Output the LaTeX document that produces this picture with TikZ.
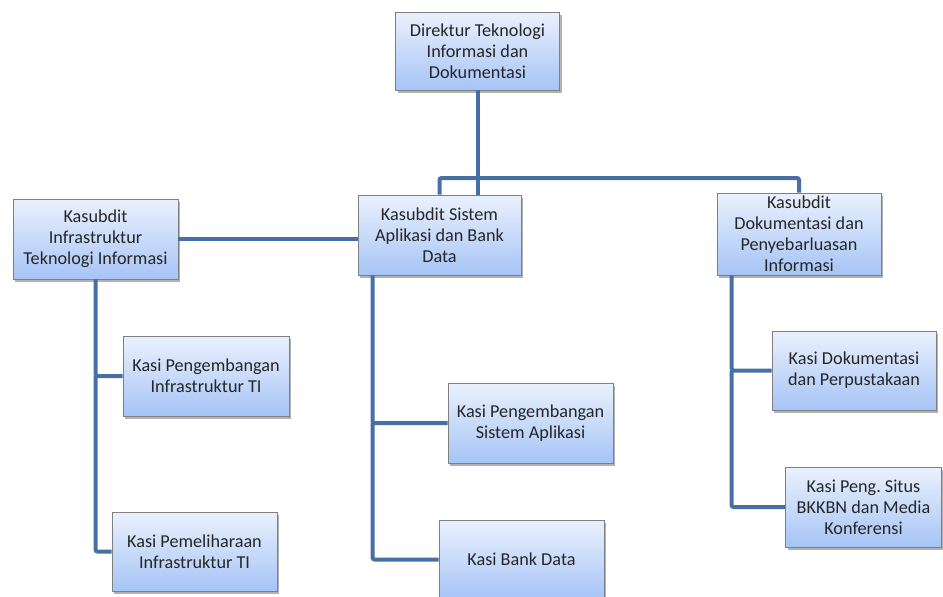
\documentclass[tikz,border=0pt]{standalone}
\usepackage{fontspec}
\setmainfont{Carlito}
\usepackage{tikz}
\usetikzlibrary{shadows}

\definecolor{linkblue}{RGB}{70,112,164}
\definecolor{boxtop}{RGB}{234,241,253}
\definecolor{boxbot}{RGB}{166,196,246}
\definecolor{boxline}{RGB}{128,128,128}

\begin{document}
\begin{tikzpicture}[x=1pt,y=-1pt,
  unit/.style={draw=boxline,line width=0.8pt,top color=boxtop,bottom color=boxbot,
    minimum width=164pt,minimum height=80pt,inner sep=2pt,align=center,
    font=\fontsize{18.2}{21}\selectfont,text=black!85,
    drop shadow={shadow xshift=2pt,shadow yshift=-2.5pt,opacity=0.3,fill=black}},
  link/.style={draw=linkblue,line width=4pt,rounded corners=2pt}]
\useasboundingbox (0,0) rectangle (943,597);
% Direktur
\node[unit,minimum height=78pt] (dir) at (477.5,51) {Direktur Teknologi\\Informasi dan\\Dokumentasi};
% Kasubdit
\node[unit,minimum width=165pt] (infra) at (95.5,239) {Kasubdit\\Infrastruktur\\Teknologi Informasi};
\node[unit,minimum width=163pt] (sistem) at (439.5,235) {Kasubdit Sistem\\Aplikasi dan Bank\\Data};
\node[unit,minimum height=82pt] (dokum) at (799,234) {Kasubdit\\Dokumentasi dan\\Penyebarluasan\\Informasi};
% Kasi
\node[unit,minimum width=166pt] (kpinfra) at (206,376) {Kasi Pengembangan\\Infrastruktur TI};
\node[unit,minimum width=165pt,minimum height=79pt] (kminfra) at (194.5,551.5) {Kasi Pemeliharaan\\Infrastruktur TI};
\node[unit,minimum width=165pt] (kpsistem) at (530.5,423) {Kasi Pengembangan\\Sistem Aplikasi};
\node[unit,minimum width=165pt,minimum height=79pt] (kbank) at (521.5,559.5) {Kasi Bank Data};
\node[unit,minimum height=79pt] (kdok) at (854,370.5) {Kasi Dokumentasi\\dan Perpustakaan};
\node[unit,minimum width=156pt] (ksitus) at (863.5,507) {Kasi Peng.\ Situs\\BKKBN dan Media\\Konferensi};
\coordinate (bar) at (0,178);
\coordinate (msys) at ([xshift=15pt]sistem.south west);
\coordinate (mdok) at ([xshift=15pt]dokum.south west);
% connectors
\path[link] (dir.south) -- (dir.south |- sistem.north);
\path[link] (sistem.north) -- (sistem.north |- bar) -- (dokum.north |- bar) -- (dokum.north);
\path[link] (infra.east) -- (infra.east -| sistem.west);
\path[link] (infra.south) -- (infra.south |- kpinfra.west) -- (kpinfra.west);
\path[link] (infra.south |- kpinfra.west) -- (infra.south |- kminfra.west) -- (kminfra.west);
\path[link] (msys) -- (msys |- kpsistem.west) -- (kpsistem.west);
\path[link] (msys |- kpsistem.west) -- (msys |- kbank.west) -- (kbank.west);
\path[link] (mdok) -- (mdok |- kdok.west) -- (kdok.west);
\path[link] (mdok |- kdok.west) -- (mdok |- ksitus.west) -- (ksitus.west);
\end{tikzpicture}
\end{document}
